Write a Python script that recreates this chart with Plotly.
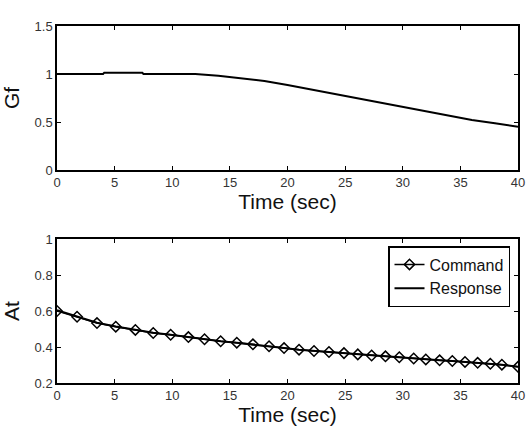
import plotly.graph_objects as go
from plotly.subplots import make_subplots

# Top panel: Gf vs time
gf_time = [0, 4, 4.1, 7.4, 7.5, 12, 14, 16, 18, 20, 22, 24, 26, 28, 30, 32, 34, 36, 38, 40]
gf_values = [1.0, 1.0, 1.014, 1.014, 1.0, 1.0, 0.982, 0.958, 0.927, 0.886, 0.84, 0.795,
             0.75, 0.703, 0.655, 0.607, 0.562, 0.522, 0.486, 0.45]

# Bottom panel: At command (with markers) and response
cmd_time = [0, 1.74, 3.47, 5.1, 6.8, 8.35, 9.86, 11.4, 12.8, 14.2, 15.6, 17.0,
            18.4, 19.7, 21.0, 22.3, 23.6, 24.9, 26.1, 27.3, 28.5, 29.7, 30.95,
            32.0, 33.2, 34.3, 35.4, 36.5, 37.6, 38.6, 40.0]
cmd_at = [0.600, 0.568, 0.533, 0.513, 0.495, 0.478, 0.468, 0.455, 0.443, 0.432,
          0.424, 0.415, 0.404, 0.394, 0.385, 0.378, 0.372, 0.366, 0.359, 0.353,
          0.348, 0.343, 0.336, 0.331, 0.326, 0.322, 0.317, 0.312, 0.307, 0.302, 0.290]
resp_time = [0, 1.74, 3.47, 5.1, 6.8, 8.35, 9.86, 11.4, 12.8, 14.2, 15.6, 17.0,
             18.4, 19.7, 21.0, 22.3, 23.6, 24.9, 26.1, 27.3, 28.5, 29.7, 30.95,
             32.0, 33.2, 34.3, 35.4, 36.5, 37.6, 38.6, 40.0]
resp_at = [0.605, 0.570, 0.535, 0.514, 0.496, 0.479, 0.468, 0.455, 0.443, 0.432,
           0.424, 0.415, 0.404, 0.394, 0.385, 0.378, 0.372, 0.366, 0.359, 0.353,
           0.348, 0.343, 0.336, 0.331, 0.326, 0.322, 0.317, 0.312, 0.307, 0.302, 0.290]

x_ticks = [0, 5, 10, 15, 20, 25, 30, 35, 40]
gf_ticks = [0, 0.5, 1, 1.5]
gf_tick_labels = ["0", "0.5", "1", "1.5"]
at_ticks = [0.2, 0.4, 0.6, 0.8, 1.0]
at_tick_labels = ["0.2", "0.4", "0.6", "0.8", "1"]

FONT = "Arial, Liberation Sans, sans-serif"

fig = make_subplots(rows=2, cols=1)

fig.add_trace(go.Scatter(x=gf_time, y=gf_values, mode="lines",
                         line=dict(color="black", width=2), showlegend=False),
              row=1, col=1)
fig.add_trace(go.Scatter(x=cmd_time, y=cmd_at, mode="lines+markers", name="Command",
                         line=dict(color="black", width=1.5),
                         marker=dict(symbol="diamond-open", size=8, color="black",
                                     line=dict(width=1.5))),
              row=2, col=1)
fig.add_trace(go.Scatter(x=resp_time, y=resp_at, mode="lines", name="Response",
                         line=dict(color="black", width=2)),
              row=2, col=1)

axis_common = dict(showgrid=False, zeroline=False, showline=True, linecolor="black",
                   linewidth=1.5, mirror="ticks", ticks="inside", ticklen=4,
                   tickcolor="black", tickwidth=1, automargin=False,
                   tickfont=dict(family=FONT, size=13, color="#333"))

fig.update_xaxes(**axis_common, range=[0, 40], tickvals=x_ticks,
                 title=dict(text="Time (sec)", font=dict(family=FONT, size=21, color="#111"),
                            standoff=3))
fig.update_yaxes(**axis_common)
fig.update_yaxes(range=[0, 1.5], tickvals=gf_ticks, ticktext=gf_tick_labels,
                 title=dict(text="Gf", font=dict(family=FONT, size=21, color="#111"), standoff=9),
                 row=1, col=1)
fig.update_yaxes(range=[0.2, 1.0], tickvals=at_ticks, ticktext=at_tick_labels,
                 title=dict(text="At", font=dict(family=FONT, size=21, color="#111"), standoff=9),
                 row=2, col=1)

W, H = 530, 429
fig.update_layout(
    width=W, height=H, margin=dict(l=0, r=0, t=0, b=0, autoexpand=False),
    paper_bgcolor="white", plot_bgcolor="white",
    xaxis=dict(domain=[57 / W, 518 / W]),
    xaxis2=dict(domain=[57 / W, 518 / W]),
    yaxis=dict(domain=[1 - 170 / H, 1 - 26 / H]),
    yaxis2=dict(domain=[1 - 383 / H, 1 - 239 / H]),
    legend=dict(x=388 / W, y=1 - 246 / H, xanchor="left", yanchor="top",
                bordercolor="black", borderwidth=1.5, bgcolor="white",
                font=dict(family=FONT, size=16, color="#111"),
                tracegroupgap=0),
)

fig.write_html("out.html")
